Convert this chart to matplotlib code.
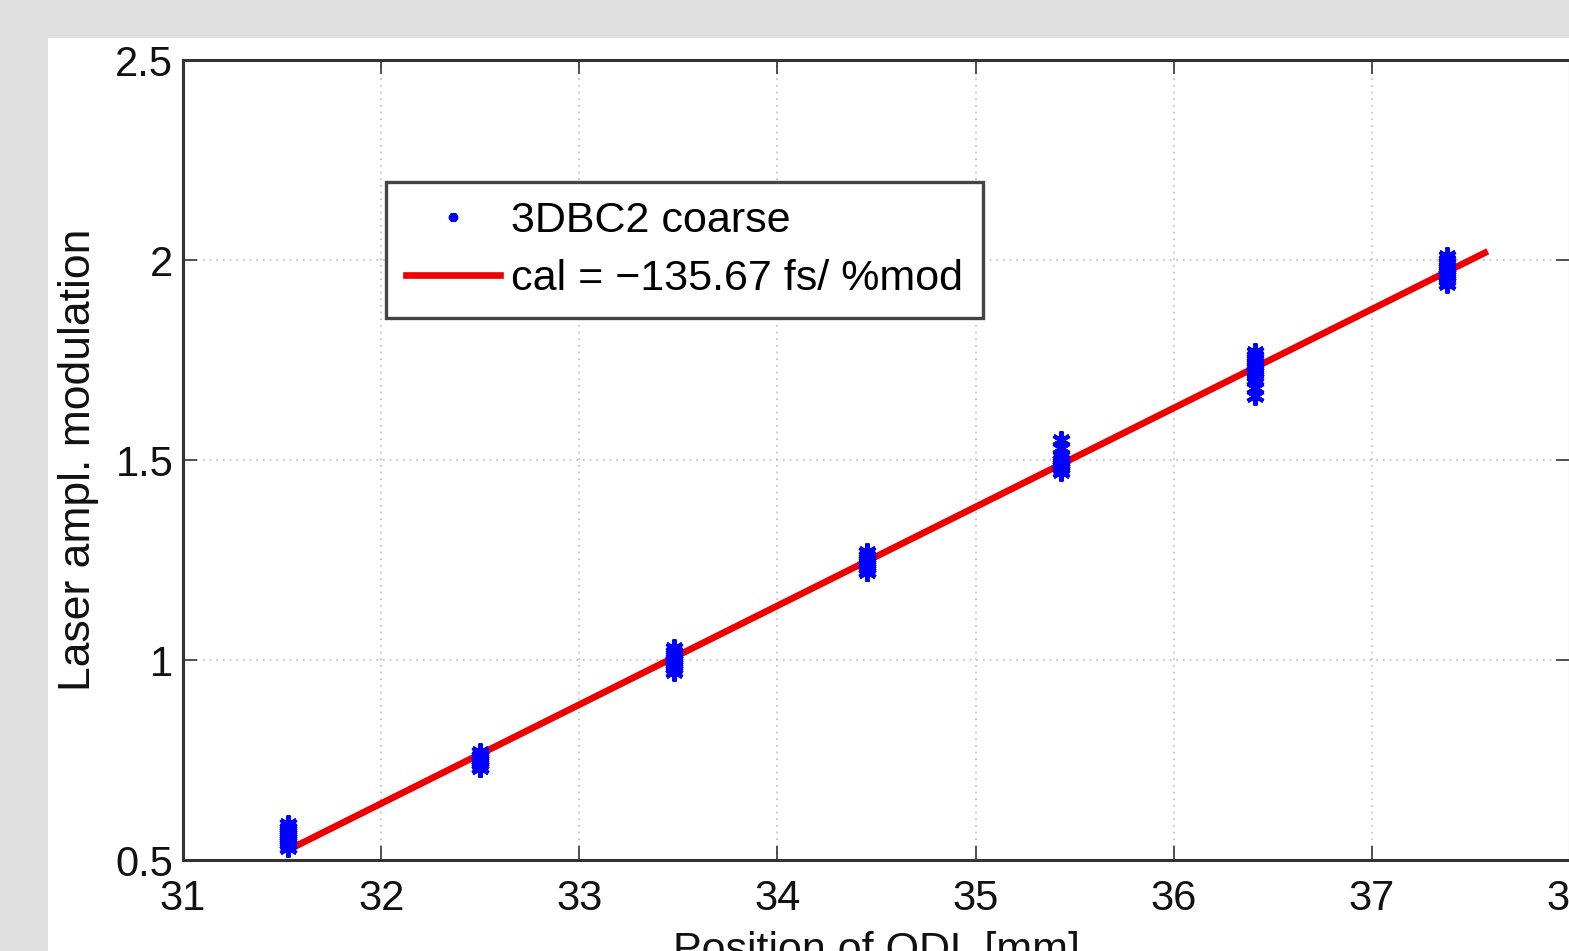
"""ODL calibration plot: laser amplitude modulation vs. ODL position."""
import matplotlib

matplotlib.use("Agg")
import matplotlib.pyplot as plt
from matplotlib.patches import Rectangle

plt.rcParams["font.family"] = ["Liberation Sans", "DejaVu Sans"]

# measured clusters (one list of repeated readings per ODL position)
odl_pos = [31.53, 32.50, 33.48, 34.45, 35.43, 36.41, 37.38]
mod_values = [
    [0.53, 0.54, 0.55, 0.56, 0.57, 0.58, 0.59, 0.55, 0.56, 0.57, 0.54, 0.58],
    [0.73, 0.74, 0.75, 0.76, 0.74, 0.75, 0.76, 0.73, 0.75, 0.77],
    [0.97, 0.98, 0.99, 1.00, 1.01, 1.02, 0.99, 1.00, 1.03, 0.98],
    [1.22, 1.23, 1.24, 1.25, 1.26, 1.23, 1.24, 1.25, 1.27, 1.22],
    [1.47, 1.48, 1.49, 1.50, 1.51, 1.48, 1.49, 1.50, 1.53, 1.55],
    [1.68, 1.70, 1.71, 1.72, 1.73, 1.74, 1.75, 1.76, 1.77, 1.72, 1.66],
    [1.94, 1.95, 1.96, 1.97, 1.98, 1.99, 2.00, 2.01, 1.96, 1.98],
]

# linear fit endpoints
fit_x = [31.53, 37.57]
fit_y = [0.525, 2.018]

x_ticks = [31, 32, 33, 34, 35, 36, 37, 38]
y_ticks = [0.5, 1, 1.5, 2, 2.5]

W, H = 1569, 951
FS = 30
fig = plt.figure(figsize=(W / 100, H / 100), dpi=100, facecolor="#e0e0e0")
fig.add_artist(Rectangle((48 / W, 0), 1, 1 - 38 / H, transform=fig.transFigure,
                         facecolor="white", edgecolor="none", zorder=0))

ax = fig.add_axes([183 / W, 1 - 860 / H, 1387 / W, 800 / H])
ax.set_facecolor("white")

xs = []
ys = []
for x, vals in zip(odl_pos, mod_values):
    xs += [x] * len(vals)
    ys += vals
ax.plot(xs, ys, linestyle="none", marker=(6, 2, 0), markersize=13, mew=3,
        color="#0000ff", label="3DBC2 coarse", zorder=3)
ax.plot(fit_x, fit_y, color="#ee0000", lw=4.8, label="cal = \u2212135.67 fs/ %mod", zorder=2)

ax.set_xlim(31, 38)
ax.set_ylim(0.5, 2.5)
ax.set_xticks(x_ticks)
ax.set_yticks(y_ticks)
ax.set_yticklabels(["0.5", "1", "1.5", "2", "2.5"])
ax.grid(True, linestyle=(0, (1, 3)), color="#bdbdbd", lw=1.2)
ax.tick_params(direction="in", length=10, width=1.2, color="#333333",
               top=True, right=True, labelsize=FS, labelcolor="#111111")
ax.tick_params(axis="x", pad=14)
ax.tick_params(axis="y", pad=7)
for s in ax.spines.values():
    s.set_linewidth(2.2)
    s.set_color("#333333")

ax.set_xlabel("Position of ODL [mm]", fontsize=FS + 1, labelpad=8, color="#111111")
ax.set_ylabel("Laser ampl. modulation", fontsize=FS + 2, labelpad=12, color="#111111")

leg = ax.legend(loc="upper left", bbox_to_anchor=(0.1466, 0.8475), borderaxespad=0,
                fontsize=FS + 1, handlelength=2.2, handletextpad=0.25, labelspacing=0.4,
                borderpad=0.45, fancybox=False, framealpha=1, edgecolor="#444444",
                markerscale=0.5)
leg.get_frame().set_linewidth(2.4)

fig.savefig("out.png", dpi=100, facecolor=fig.get_facecolor())
